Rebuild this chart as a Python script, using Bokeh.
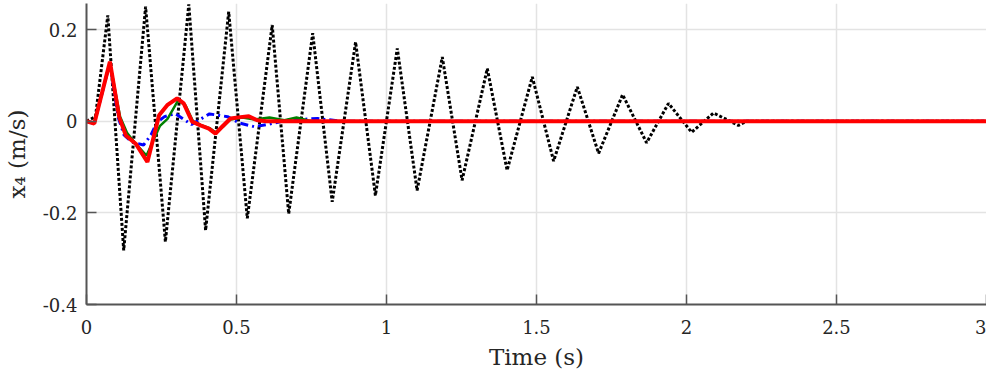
from bokeh.plotting import figure
from bokeh.models import Range1d, FixedTicker
from bokeh.embed import file_html
from bokeh.resources import INLINE

# ---- data ----
x_ticks = [0, 0.5, 1, 1.5, 2, 2.5, 3]
x_tick_labels = ["0", "0.5", "1", "1.5", "2", "2.5", "3"]
y_ticks = [-0.4, -0.2, 0, 0.2]
y_tick_labels = ["-0.4", "-0.2", "0", "0.2"]

# black dotted (uncontrolled) response: extrema
t_black = [0, 0.03, 0.071, 0.124, 0.197, 0.263, 0.341, 0.397, 0.474, 0.536, 0.619,
           0.674, 0.754, 0.819, 0.897, 0.963, 1.036, 1.102, 1.186, 1.252, 1.336,
           1.402, 1.486, 1.557, 1.636, 1.707, 1.787, 1.867, 1.940, 2.017, 2.090,
           2.173, 2.2, 3.0]
v_black = [0, 0.01, 0.231, -0.282, 0.250, -0.263, 0.255, -0.238, 0.239, -0.212, 0.210,
           -0.202, 0.192, -0.176, 0.173, -0.162, 0.159, -0.151, 0.140, -0.129, 0.115,
           -0.107, 0.097, -0.087, 0.075, -0.070, 0.058, -0.047, 0.039, -0.024, 0.018,
           -0.009, 0, 0]

# blue dash-dot response
t_blue = [0, 0.026, 0.078, 0.105, 0.125, 0.15, 0.19, 0.215, 0.235, 0.26, 0.295,
          0.35, 0.41, 0.47, 0.51, 0.56, 0.61, 0.67, 0.77, 0.85, 3.0]
v_blue = [0, -0.005, 0.128, 0.01, -0.03, -0.045, -0.052, -0.03, -0.002, 0.01, 0.017,
          -0.007, 0.016, 0.01, -0.004, -0.012, -0.006, 0.002, 0.006, 0.0, 0]

# green solid response
t_green = [0, 0.026, 0.078, 0.112, 0.135, 0.165, 0.2, 0.245, 0.27, 0.305, 0.33,
           0.355, 0.38, 0.41, 0.43, 0.455, 0.48, 0.52, 0.56, 0.61, 0.66, 0.70, 0.75, 3.0]
v_green = [0, -0.005, 0.128, 0.01, -0.025, -0.05, -0.075, -0.01, 0.005, 0.045, 0.035,
           0.0, -0.008, -0.015, -0.024, -0.012, 0.004, 0.008, 0.004, 0.008, 0.002, 0.008, 0.0, 0]

# red thick response
t_red = [0, 0.026, 0.078, 0.109, 0.131, 0.164, 0.203, 0.242, 0.269, 0.302, 0.324,
         0.352, 0.38, 0.408, 0.43, 0.452, 0.48, 0.513, 0.541, 0.569, 0.6, 3.0]
v_red = [0, -0.005, 0.130, 0.009, -0.031, -0.049, -0.089, 0.013, 0.035, 0.050, 0.039,
         -0.001, -0.009, -0.016, -0.027, -0.012, 0.006, 0.009, 0.011, 0.002, 0, 0]

FONT = "DejaVu Serif"
TXT = "#262626"

p = figure(frame_width=900, frame_height=301, output_backend="svg", toolbar_location=None,
           x_range=Range1d(0, 3), y_range=Range1d(-0.4, 0.257),
           min_border_left=78, min_border_right=0, min_border_top=3,
           min_border_bottom=55)
p.outline_line_color = None
p.background_fill_color = "white"
p.border_fill_color = "white"

p.line(t_black, v_black, line_color="black", line_width=3, line_dash="3 2")
p.line(t_blue, v_blue, line_color="#0000ff", line_width=3, line_dash="8 4 2 4")
p.line(t_green, v_green, line_color="#008000", line_width=2.5)
p.line(t_red, v_red, line_color="#ff0000", line_width=4)

for ax, ticks, labels in ((p.xaxis[0], x_ticks, x_tick_labels), (p.yaxis[0], y_ticks, y_tick_labels)):
    ax.ticker = FixedTicker(ticks=ticks)
    ax.major_label_overrides = {t: l for t, l in zip(ticks, labels)}
    ax.minor_tick_line_color = None
    ax.major_tick_in = 10
    ax.major_tick_out = 0
    ax.axis_line_color = "#555555"
    ax.axis_line_width = 2
    ax.major_tick_line_color = "#555555"
    ax.major_tick_line_width = 1.5
    ax.major_label_text_font = FONT
    ax.major_label_text_font_size = "18px"
    ax.major_label_text_color = TXT
    ax.axis_label_text_font = FONT
    ax.axis_label_text_font_size = "23px"
    ax.axis_label_text_font_style = "normal"
    ax.axis_label_text_color = TXT

p.xaxis.axis_label = "Time (s)"
p.yaxis.axis_label = "x\u2084 (m/s)"
p.xaxis.major_label_standoff = 15
p.xaxis.axis_label_standoff = 7
p.yaxis.major_label_standoff = 9
p.yaxis.axis_label_standoff = 10

p.xgrid.ticker = FixedTicker(ticks=x_ticks)
p.ygrid.ticker = FixedTicker(ticks=y_ticks)
for g in (p.xgrid[0], p.ygrid[0]):
    g.grid_line_color = "#e3e3e3"
    g.grid_line_width = 1.5

open("out.html", "w").write(file_html(p, INLINE))
